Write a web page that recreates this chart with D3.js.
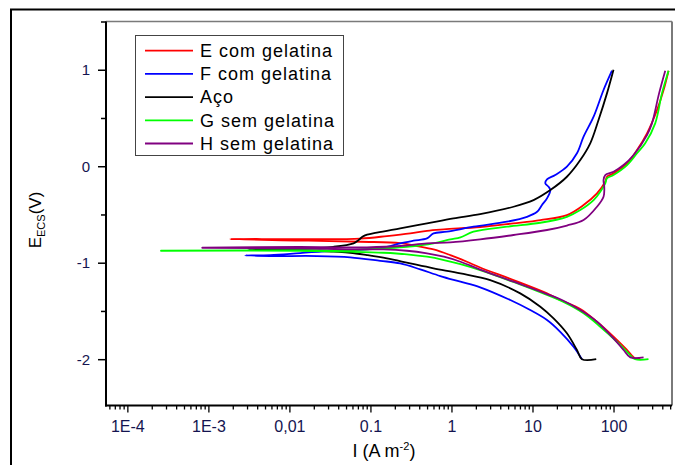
<!DOCTYPE html>
<html>
<head>
<meta charset="utf-8">
<script src="https://cdn.jsdelivr.net/npm/d3@7"></script>
<style>
  body { margin: 0; background: #fff; }
  svg { display: block; }
  text { font-family: Arial, "Liberation Sans", sans-serif; }
</style>
</head>
<body>
<svg id="chart" width="675" height="465"></svg>
<script>
// Potentiodynamic polarization curves: [current density (A m^-2), potential E (V vs SCE)]
// Each path runs from the cathodic end (-2 V) through the corrosion potential to the anodic end (+1 V).
const seriesNames = ["E com gelatina", "F com gelatina", "Aço", "G sem gelatina", "H sem gelatina"];
const seriesColors = ["#ff0000", "#0000ff", "#000000", "#00ff00", "#800080"];

const curveE = [[214,-1.991],[185,-1.991],[147,-1.905],[100,-1.767],[62.5,-1.612],[38.9,-1.48],[22.0,-1.387],
  [15.1,-1.318],[5.83,-1.180],[2.26,-1.050],[1.55,-0.990],[0.966,-0.921],[0.601,-0.862],[0.375,-0.827],
  [0.233,-0.796],[0.0748,-0.783],[0.0136,-0.770],[0.00186,-0.755],[0.0136,-0.755],[0.0748,-0.750],
  [0.160,-0.724],[0.310,-0.696],[0.499,-0.669],[0.807,-0.654],[2.26,-0.630],[5.83,-0.592],[12.5,-0.558],
  [26.6,-0.506],[42.7,-0.402],[62.5,-0.281],[79.1,-0.161],[83.0,-0.109],[100,-0.074],[147,0.030],
  [195,0.168],[259,0.341],[344,0.582],[415,0.790],[478,0.990]];

const curveF = [[40.8,-2.0],[32.1,-1.871],[22.0,-1.716],[15.1,-1.594],[9.38,-1.491],[5.32,-1.387],[2.26,-1.255],
  [1.29,-1.197],[0.728,-1.138],[0.412,-1.069],[0.233,-1.007],[0.132,-0.980],[0.0564,-0.944],[0.0219,-0.931],
  [0.0058,-0.931],[0.00285,-0.924],[0.0058,-0.921],[0.0136,-0.900],[0.0351,-0.876],[0.0906,-0.862],
  [0.160,-0.835],[0.233,-0.799],[0.340,-0.772],[0.499,-0.748],[0.601,-0.696],[0.879,-0.679],[1.87,-0.627],
  [4.84,-0.575],[8.55,-0.524],[11.4,-0.472],[13.1,-0.402],[15.1,-0.333],[16.6,-0.247],[15.8,-0.213],
  [14.4,-0.177],[15.1,-0.136],[19.1,-0.091],[26.6,-0.005],[35.4,0.134],[42.7,0.306],[56.8,0.513],
  [75.3,0.790],[95.7,0.990]];

const curveAco = [[61.2,-2.0],[40.8,-2.0],[35.4,-1.905],[26.6,-1.732],[18.2,-1.577],[12.5,-1.456],[7.06,-1.318],
  [3.01,-1.180],[1.29,-1.110],[0.601,-1.058],[0.310,-1.007],[0.160,-0.955],[0.0906,-0.921],[0.0564,-0.897],
  [0.0351,-0.886],[0.0136,-0.869],[0.0031,-0.858],[0.0136,-0.854],[0.0351,-0.835],[0.0619,-0.799],
  [0.0714,-0.765],[0.0822,-0.724],[0.120,-0.689],[0.233,-0.644],[0.499,-0.592],[1.06,-0.540],[2.26,-0.496],
  [5.83,-0.420],[10.3,-0.351],[16.6,-0.247],[26.6,-0.109],[38.9,0.064],[51.6,0.237],[65.3,0.479],
  [83.0,0.755],[100,1.0]];

const curveG = [[270,-2.0],[185,-2.0],[153,-1.940],[110,-1.819],[68.6,-1.664],[42.7,-1.525],[23.8,-1.405],
  [15.1,-1.335],[5.83,-1.200],[2.26,-1.076],[1.29,-1.014],[0.807,-0.972],[0.499,-0.938],[0.282,-0.913],
  [0.145,-0.897],[0.0564,-0.886],[0.0136,-0.876],[0.00026,-0.876],[0.0136,-0.871],[0.0564,-0.869],
  [0.145,-0.851],[0.282,-0.835],[0.601,-0.799],[0.966,-0.758],[1.29,-0.737],[1.87,-0.679],[4.84,-0.627],
  [12.5,-0.586],[26.6,-0.524],[38.9,-0.454],[56.8,-0.351],[68.6,-0.265],[79.1,-0.177],[83.0,-0.126],
  [100,-0.091],[147,0.012],[195,0.134],[246,0.237],[327,0.444],[396,0.755],[478,0.990]];

const curveH = [[235,-1.981],[161,-1.981],[133,-1.905],[100,-1.784],[62.5,-1.612],[38.9,-1.491],[23.1,-1.387],
  [15.1,-1.325],[5.83,-1.197],[2.26,-1.071],[1.29,-0.990],[0.807,-0.938],[0.499,-0.903],[0.282,-0.876],
  [0.145,-0.862],[0.0564,-0.862],[0.0136,-0.851],[0.00084,-0.845],[0.0136,-0.837],[0.0351,-0.841],
  [0.0906,-0.841],[0.233,-0.827],[0.499,-0.799],[0.966,-0.789],[2.26,-0.758],[5.83,-0.713],[15.1,-0.661],
  [26.6,-0.615],[42.7,-0.558],[62.5,-0.420],[75.3,-0.316],[76.9,-0.213],[75.3,-0.143],[79.1,-0.091],
  [100,-0.057],[133,0.012],[177,0.116],[259,0.323],[298,0.444],[365,0.755],[435,0.990]];

const seriesData = [curveE, curveF, curveAco, curveG, curveH];

const xTickValues = [1e-4, 1e-3, 1e-2, 1e-1, 1, 10, 100];
const xTickLabels = ["1E-4", "1E-3", "0,01", "0.1", "1", "10", "100"];
const yTickValues = [-2, -1, 0, 1];
const yTickLabels = ["-2", "-1", "0", "1"];
const yMinorValues = [-1.5, -0.5, 0.5, 1.5];

const svg = d3.select("#chart");
const plot = { left: 106, right: 672, top: 21.5, bottom: 405.5 };

const x = d3.scaleLog().domain([5.45e-5, 527]).range([plot.left, plot.right]);
const y = d3.scaleLinear().domain([-2.48, 1.5]).range([plot.bottom, plot.top]);

// outer frame
svg.append("rect").attr("x", 11).attr("y", 9.5).attr("width", 700).attr("height", 500)
  .attr("fill", "none").attr("stroke", "#000").attr("stroke-width", 2);

// plot box: top and right edges
svg.append("line").attr("x1", plot.left).attr("x2", plot.right).attr("y1", plot.top).attr("y2", plot.top)
  .attr("stroke", "#7a7a7a").attr("stroke-width", 1.5);
svg.append("line").attr("x1", plot.right).attr("x2", plot.right).attr("y1", plot.top).attr("y2", plot.bottom)
  .attr("stroke", "#7a7a7a").attr("stroke-width", 2);

// minor x ticks (2..9 in each decade)
const xMinorValues = [];
for (let d = -5; d <= 2; d++) {
  for (let k = 2; k <= 9; k++) {
    const v = k * Math.pow(10, d);
    if (v >= x.domain()[0] && v <= x.domain()[1]) xMinorValues.push(v);
  }
}

const tickColor = "#000";
const labelColor = "#141450";

// x axis
const xMinorAxis = d3.axisBottom(x).tickValues(xMinorValues).tickSize(4).tickFormat("");
const xMajorAxis = d3.axisBottom(x).tickValues(xTickValues).tickSize(7).tickPadding(8)
  .tickFormat((d, i) => xTickLabels[i]);
const gxm = svg.append("g").attr("transform", `translate(0,${plot.bottom})`).call(xMinorAxis);
const gx = svg.append("g").attr("transform", `translate(0,${plot.bottom})`).call(xMajorAxis);
[gxm, gx].forEach(g => {
  g.select(".domain").remove();
  g.selectAll(".tick line").attr("stroke", tickColor).attr("stroke-width", 1.3);
});
gx.selectAll(".tick text").attr("fill", labelColor).style("font-size", "16px")
  .style("font-family", "Arial, 'Liberation Sans', sans-serif");

// y axis
const yMinorAxis = d3.axisLeft(y).tickValues(yMinorValues).tickSize(5).tickFormat("");
const yMajorAxis = d3.axisLeft(y).tickValues(yTickValues).tickSize(8).tickPadding(8)
  .tickFormat((d, i) => yTickLabels[i]);
const gym = svg.append("g").attr("transform", `translate(${plot.left},0)`).call(yMinorAxis);
const gy = svg.append("g").attr("transform", `translate(${plot.left},0)`).call(yMajorAxis);
[gym, gy].forEach(g => {
  g.select(".domain").remove();
  g.selectAll(".tick line").attr("stroke", tickColor).attr("stroke-width", 1.5);
});
gy.selectAll(".tick text").attr("fill", labelColor).style("font-size", "15px")
  .style("font-family", "Arial, 'Liberation Sans', sans-serif");

// clip region for curves
svg.append("defs").append("clipPath").attr("id", "plotClip").append("rect")
  .attr("x", plot.left).attr("y", plot.top)
  .attr("width", plot.right - plot.left).attr("height", plot.bottom - plot.top);

const line = d3.line()
  .x(d => x(d[0]))
  .y(d => y(d[1]))
  .curve(d3.curveCatmullRom.alpha(0.5));

svg.append("g").attr("clip-path", "url(#plotClip)")
  .selectAll("path").data(seriesData).join("path")
  .attr("d", line)
  .attr("fill", "none")
  .attr("stroke", (d, i) => seriesColors[i])
  .attr("stroke-width", 1.8)
  .attr("stroke-linejoin", "round");

// left and bottom axis lines
svg.append("line").attr("x1", plot.left).attr("x2", plot.left).attr("y1", plot.top).attr("y2", plot.bottom + 1)
  .attr("stroke", "#000").attr("stroke-width", 2);
svg.append("line").attr("x1", plot.left - 1).attr("x2", plot.right).attr("y1", plot.bottom).attr("y2", plot.bottom)
  .attr("stroke", "#000").attr("stroke-width", 2);

// axis titles
const xTitle = svg.append("text").attr("x", 384).attr("y", 457).attr("text-anchor", "middle")
  .style("font-size", "18px").attr("fill", "#000");
xTitle.append("tspan").text("I (A m");
xTitle.append("tspan").attr("dy", -7).style("font-size", "11px").text("-2");
xTitle.append("tspan").attr("dy", 7).text(")");

const yTitle = svg.append("text").attr("transform", "translate(41,220) rotate(-90)")
  .attr("text-anchor", "middle").style("font-size", "17px").attr("fill", "#000");
yTitle.append("tspan").text("E");
yTitle.append("tspan").attr("dy", 4).style("font-size", "11px").text("ECS");
yTitle.append("tspan").attr("dy", -4).text("(V)");

// legend
const legend = svg.append("g").attr("transform", "translate(135.5,35.5)");
legend.append("rect").attr("width", 208).attr("height", 120)
  .attr("fill", "#fff").attr("stroke", "#444").attr("stroke-width", 1);
const items = legend.selectAll("g.item").data(seriesNames).join("g")
  .attr("class", "item")
  .attr("transform", (d, i) => `translate(0,${15.2 + i * 23.2})`);
items.append("line").attr("x1", 9.5).attr("x2", 57.5).attr("y1", 0).attr("y2", 0)
  .attr("stroke", (d, i) => seriesColors[i]).attr("stroke-width", 1.8);
items.append("text").attr("x", 64.5).attr("y", 6.2)
  .style("font-size", "18px").style("letter-spacing", "1px").attr("fill", "#000")
  .text(d => d);
</script>
</body>
</html>
